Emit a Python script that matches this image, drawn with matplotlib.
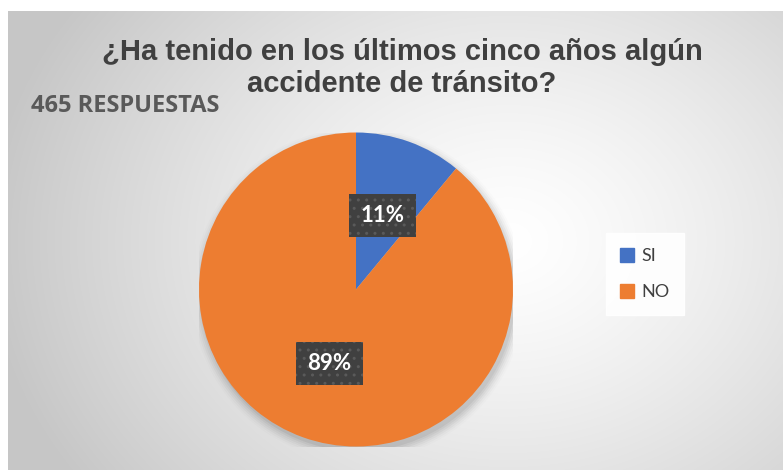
import numpy as np
import matplotlib
matplotlib.use('Agg')
from matplotlib import pyplot as plt
import matplotlib.patches as mpatches

labels = ['SI', 'NO']
values = [11, 89]
colors = ['#4472C4', '#ED7D31']
title_lines = ['¿Ha tenido en los últimos cinco años algún',
               'accidente de tránsito?']
subtitle = '465 RESPUESTAS'

W, H = 783, 470
fig = plt.figure(figsize=(W / 100, H / 100), dpi=100)
fig.patch.set_facecolor('white')

# background with radial gradient (chart area starts a bit in from the left/top)
bg = fig.add_axes([8 / W, 0, 1 - 8 / W, (H - 11) / H])
bg.set_axis_off()
yy, xx = np.mgrid[0:459, 0:775]
cx, cy = 500, 230
d = np.sqrt(((xx - cx) / 520.0) ** 2 + ((yy - cy) / 420.0) ** 2)
d = np.clip(d, 0, 1)
shade = 1.0 - 0.22 * d ** 1.3
img = np.dstack([shade, shade, shade])
bg.imshow(img, aspect='auto', extent=[0, 1, 0, 1], origin='upper')
bg.set_xlim(0, 1)
bg.set_ylim(0, 1)

# pie axes
r = 157
pcx, pcy = 356, H - 289.5
ax = fig.add_axes([(pcx - r) / W, (pcy - r) / H, 2 * r / W, 2 * r / H])
ax.set_axis_off()

# soft shadow
for i, a in enumerate(np.linspace(0.05, 0.01, 6)):
    sh = mpatches.Circle((0.015, -0.03), 1.0 + 0.012 * i, color='black',
                         alpha=a, lw=0, zorder=0)
    ax.add_patch(sh)

wedges, texts, autotexts = ax.pie(values, colors=colors, startangle=90,
                                  counterclock=False, autopct='%1.0f%%',
                                  pctdistance=0.5, radius=1.0,
                                  wedgeprops=dict(linewidth=0))
for t in autotexts:
    t.set_color('white')
    t.set_fontsize(16)
    t.set_fontweight('bold')
    t.set_family(['Lato', 'DejaVu Sans'])
    t.set_bbox(dict(boxstyle='square,pad=0.5', facecolor='#404040',
                    edgecolor='#5a5a5a', linewidth=0, hatch='..'))
ax.set_xlim(-1, 1)
ax.set_ylim(-1, 1)

# title, one text per line
for line, ypix in zip(title_lines, [52, 84]):
    fig.text(402 / W, 1 - ypix / H, line, ha='center', va='center',
             fontsize=21, fontweight='bold', color='#404040',
             family='Liberation Sans')
fig.text(31 / W, 1 - 106 / H, subtitle, ha='left', va='center', fontsize=17,
         fontweight='bold', color='#595959', family=['Open Sans', 'DejaVu Sans'])

handles = [mpatches.Patch(color=c, label=l) for c, l in zip(colors, labels)]
leg = fig.legend(handles=handles, loc='center',
                 bbox_to_anchor=(645 / W, 1 - 274 / H), frameon=True,
                 handlelength=0.8, handleheight=0.8,
                 handletextpad=0.4, labelspacing=1.1, borderpad=0.8,
                 fancybox=False, prop={'family': ['Lato', 'DejaVu Sans'],
                                       'size': 13})
leg.get_frame().set_facecolor('white')
leg.get_frame().set_edgecolor('white')
leg.get_frame().set_alpha(0.9)
for t in leg.get_texts():
    t.set_color('#404040')

fig.savefig('out.png', dpi=100, facecolor='white')
